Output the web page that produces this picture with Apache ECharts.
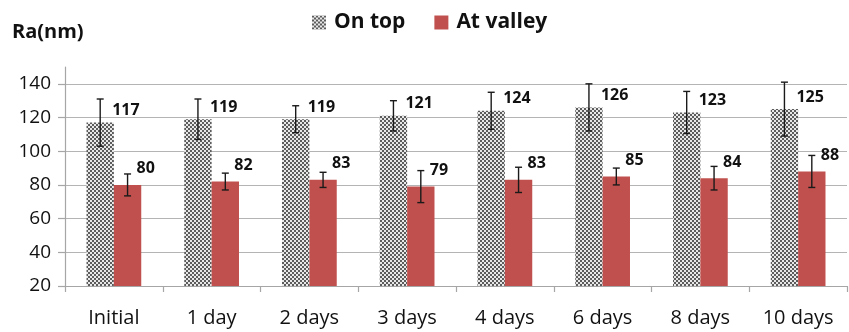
<!DOCTYPE html>
<html>
<head>
<meta charset="utf-8">
<script src="https://cdn.jsdelivr.net/npm/echarts@6/dist/echarts.min.js"></script>
<style>
  html, body { margin: 0; padding: 0; background: #fff; }
  #chart { width: 849px; height: 332px; }
</style>
</head>
<body>
<div id="chart"></div>
<script>
// Surface roughness Ra (nm) over storage time
const categories = ['Initial', '1 day', '2 days', '3 days', '4 days', '6 days', '8 days', '10 days'];
const onTop = [117, 119, 119, 121, 124, 126, 123, 125];
const onTopErr = [14, 12, 8, 9, 11, 14, 12.5, 16];
const atValley = [80, 82, 83, 79, 83, 85, 84, 88];
const atValleyErr = [6.5, 5, 4.5, 9.5, 7.5, 5, 7, 9.5];
const yTicks = [20, 40, 60, 80, 100, 120, 140];

const FONT = '"Open Sans", "DejaVu Sans", sans-serif';
const CAT_GAP = 0.44;

// checkerboard fill for the "On top" bars
function checker(cell, dark, light) {
  const c = document.createElement('canvas');
  c.width = cell * 2; c.height = cell * 2;
  const g = c.getContext('2d');
  g.fillStyle = light; g.fillRect(0, 0, c.width, c.height);
  g.fillStyle = dark;
  g.fillRect(0, 0, cell, cell);
  g.fillRect(cell, cell, cell, cell);
  return { image: c, repeat: 'repeat' };
}
const grayFill = checker(2, '#5c5c5c', '#e8e8e8');

// error bars: side = -1 for the left bar in each group, +1 for the right one
function errorSeries(name, values, errs, side) {
  return {
    type: 'custom',
    name: name + ' err',
    z: 5,
    silent: true,
    data: values.map((v, i) => [i, v - errs[i], v + errs[i]]),
    renderItem(params, api) {
      const band = api.size([1, 0])[0];
      const barW = band * (1 - CAT_GAP) / 2;
      const lo = api.coord([api.value(0), api.value(1)]);
      const hi = api.coord([api.value(0), api.value(2)]);
      const x = lo[0] + side * barW / 2;
      const cap = 3.5;
      const style = { stroke: '#1a1a1a', lineWidth: 1.4, fill: null };
      return {
        type: 'group',
        children: [
          { type: 'line', shape: { x1: x, y1: hi[1], x2: x, y2: lo[1] }, style },
          { type: 'line', shape: { x1: x - cap, y1: hi[1], x2: x + cap, y2: hi[1] }, style },
          { type: 'line', shape: { x1: x - cap, y1: lo[1], x2: x + cap, y2: lo[1] }, style }
        ]
      };
    }
  };
}

const chart = echarts.init(document.getElementById('chart'), null, { renderer: 'canvas' });
chart.setOption({
  animation: false,
  backgroundColor: '#ffffff',
  title: {
    text: 'Ra(nm)',
    left: 12, top: 22, padding: 0,
    textStyle: { fontFamily: FONT, fontSize: 20, fontWeight: 'bold', color: '#111' }
  },
  legend: {
    left: 312, top: 12, padding: 0,
    itemWidth: 14, itemHeight: 14, itemGap: 29,
    icon: 'rect',
    data: ['On top', 'At valley'],
    textStyle: { fontFamily: FONT, fontSize: 21, fontWeight: 'bold', color: '#111', padding: [0, 0, 0, 3] }
  },
  grid: { left: 65, right: 2, top: 67, bottom: 46, containLabel: false },
  xAxis: {
    type: 'category',
    data: categories,
    axisLine: { lineStyle: { color: '#a6a6a6', width: 1.2 } },
    axisTick: { show: true, length: 6, lineStyle: { color: '#a6a6a6', width: 1.2 } },
    axisLabel: { fontFamily: FONT, fontSize: 20, color: '#111', margin: 22 }
  },
  yAxis: {
    type: 'value',
    min: 20, max: 150, interval: 20,
    axisLine: { show: true, lineStyle: { color: '#a6a6a6', width: 1.2 } },
    axisTick: { show: true, length: 7, customValues: yTicks, lineStyle: { color: '#a6a6a6', width: 1.2 } },
    axisLabel: { fontFamily: FONT, fontSize: 19, color: '#111', margin: 14, customValues: yTicks },
    splitLine: {
      show: true,
      lineStyle: {
        color: ['#b4b4b4', '#b4b4b4', '#b4b4b4', '#b4b4b4', '#b4b4b4', '#b4b4b4', '#b4b4b4', 'rgba(0,0,0,0)'],
        width: 1.2
      }
    }
  },
  series: [
    {
      name: 'On top',
      type: 'bar',
      data: onTop,
      barGap: '0%',
      barCategoryGap: (CAT_GAP * 100) + '%',
      itemStyle: { color: grayFill },
      label: {
        show: true, position: 'top', align: 'left', distance: 4, offset: [12, 0],
        fontFamily: FONT, fontSize: 16, fontWeight: 'bold', color: '#111'
      },
      z: 2
    },
    {
      name: 'At valley',
      type: 'bar',
      data: atValley,
      barGap: '0%',
      barCategoryGap: (CAT_GAP * 100) + '%',
      itemStyle: { color: '#c0504d' },
      label: {
        show: true, position: 'top', align: 'left', distance: 8, offset: [9, 0],
        fontFamily: FONT, fontSize: 16, fontWeight: 'bold', color: '#111'
      },
      z: 2
    },
    errorSeries('On top', onTop, onTopErr, -1),
    errorSeries('At valley', atValley, atValleyErr, 1)
  ]
});
</script>
</body>
</html>
